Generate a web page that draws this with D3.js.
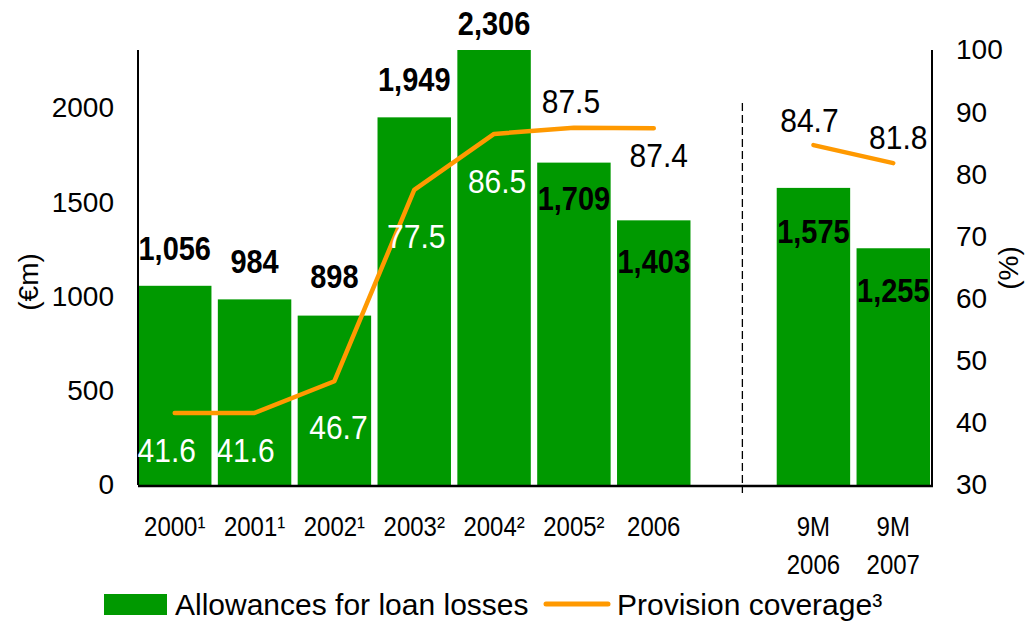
<!DOCTYPE html>
<html>
<head>
<meta charset="utf-8">
<script src="https://cdn.jsdelivr.net/npm/d3@7"></script>
<style>
  body { margin: 0; background: #fff; }
  svg text { font-family: "Liberation Sans", Arial, sans-serif; }
</style>
</head>
<body>
<div id="chart"></div>
<script>
// data
const categories = ["2000¹", "2001¹", "2002¹", "2003²", "2004²", "2005²", "2006", "gap", "9M|2006", "9M|2007"];
const barKeys = ["2000¹", "2001¹", "2002¹", "2003²", "2004²", "2005²", "2006", "9M|2006", "9M|2007"];
const allowances = [1056, 984, 898, 1949, 2306, 1709, 1403, 1575, 1255];
const coverage = [41.6, 41.6, 46.7, 77.5, 86.5, 87.5, 87.4, 84.7, 81.8];
const leftTicks = [0, 500, 1000, 1500, 2000];
const rightTicks = [30, 40, 50, 60, 70, 80, 90, 100];

// label placement (hand tuned like the original)
const barLabelDy = [-26, -26, -28, -26, -15, 47, 53, 55, 54];
const lineLabelDy = [49, 49, 58, 58, 59, -15, 39, -13, -14];
const lineLabelDx = [-8, -9, 4, 2, 3, -3, 5, -4, 5];
const lineLabelWhite = [true, true, true, true, true, false, false, false, false];

const W = 1027, H = 623;
const plot = {left: 138, right: 932, top: 50, bottom: 485};
const green = "#009900", orange = "#FF9900";
const stretch = 1.12;

const svg = d3.select("#chart").append("svg")
    .attr("width", W)
    .attr("height", H);

const x = d3.scaleBand().domain(categories).range([plot.left, 930])
    .paddingInner(0.08).paddingOuter(0);
const y = d3.scaleLinear().domain([0, 2306]).range([plot.bottom, plot.top]);
const y2 = d3.scaleLinear().domain([30, 100]).range([plot.bottom, plot.top]);
const cx = d => x(d) + x.bandwidth() / 2;

// bars
svg.selectAll(".bar")
    .data(barKeys)
  .enter().append("rect")
    .attr("class", "bar")
    .attr("x", d => x(d))
    .attr("width", x.bandwidth())
    .attr("y", (d, i) => y(allowances[i]))
    .attr("height", (d, i) => plot.bottom - y(allowances[i]))
    .attr("fill", green);

// dashed separator
const sepX = x("gap") + x.step() * 0.57;
svg.append("line")
    .attr("x1", sepX).attr("x2", sepX)
    .attr("y1", 103).attr("y2", 493)
    .attr("stroke", "#000")
    .attr("stroke-width", 1.3)
    .attr("stroke-dasharray", "8,4");

// axes lines
svg.append("line").attr("x1", plot.left).attr("x2", plot.left).attr("y1", plot.top).attr("y2", plot.bottom)
    .attr("stroke", "#000").attr("stroke-width", 2);
svg.append("line").attr("x1", plot.right).attr("x2", plot.right).attr("y1", plot.top).attr("y2", plot.bottom)
    .attr("stroke", "#000").attr("stroke-width", 2);
svg.append("line").attr("x1", plot.left).attr("x2", plot.right + 1).attr("y1", plot.bottom + 1).attr("y2", plot.bottom + 1)
    .attr("stroke", "#000").attr("stroke-width", 2.5);

// left ticks
const yAxis = d3.axisLeft(y).tickValues(leftTicks).tickFormat(d3.format("d"))
    .tickSize(0).tickPadding(24);
svg.append("g")
    .attr("transform", `translate(${plot.left},0)`)
    .call(yAxis)
    .call(g => g.select(".domain").remove())
    .selectAll("text")
    .attr("font-size", 28)
    .attr("fill", "#000")
    .attr("font-family", "Liberation Sans, Arial, sans-serif");

// right ticks
const y2Axis = d3.axisRight(y2).tickValues(rightTicks).tickSize(0).tickPadding(24);
svg.append("g")
    .attr("transform", `translate(${plot.right},0)`)
    .call(y2Axis)
    .call(g => g.select(".domain").remove())
    .selectAll("text")
    .attr("font-size", 28)
    .attr("fill", "#000")
    .attr("font-family", "Liberation Sans, Arial, sans-serif");

// axis titles
svg.append("text")
    .attr("transform", "translate(38,282) rotate(-90)")
    .attr("text-anchor", "middle")
    .attr("font-size", 28)
    .text("(€m)");
svg.append("text")
    .attr("transform", "translate(1018,268) rotate(-90)")
    .attr("text-anchor", "middle")
    .attr("font-size", 28)
    .text("(%)");

// category labels
const catLabels = svg.selectAll(".cat")
    .data(barKeys)
  .enter().append("text")
    .attr("class", "cat")
    .attr("transform", d => `translate(${cx(d)},536) scale(1,${stretch})`)
    .attr("text-anchor", "middle")
    .attr("font-size", 24);
catLabels.each(function(d) {
    const t = d3.select(this);
    d.split("|").forEach((p, j) => {
        t.append("tspan")
            .attr("x", 0)
            .attr("dy", j === 0 ? 0 : 34)
            .text(p);
    });
});

// coverage line (two segments: annual and 9M)
const pts = barKeys.map((k, i) => [cx(k), y2(coverage[i])]);
const line = d3.line();
svg.append("path")
    .attr("d", line(pts.slice(0, 7)))
    .attr("fill", "none")
    .attr("stroke", orange)
    .attr("stroke-width", 4.5)
    .attr("stroke-linecap", "round")
    .attr("stroke-linejoin", "round");
svg.append("path")
    .attr("d", line(pts.slice(7)))
    .attr("fill", "none")
    .attr("stroke", orange)
    .attr("stroke-width", 4.5)
    .attr("stroke-linecap", "round");

// bar value labels
svg.selectAll(".blabel")
    .data(barKeys)
  .enter().append("text")
    .attr("class", "blabel")
    .attr("transform", (d, i) => `translate(${cx(d)},${y(allowances[i]) + barLabelDy[i]}) scale(1,${stretch})`)
    .attr("text-anchor", "middle")
    .attr("font-size", 29)
    .attr("font-weight", "bold")
    .attr("fill", "#000")
    .text((d, i) => d3.format(",")(allowances[i]));

// line value labels
svg.selectAll(".llabel")
    .data(barKeys)
  .enter().append("text")
    .attr("class", "llabel")
    .attr("transform", (d, i) => `translate(${pts[i][0] + lineLabelDx[i]},${pts[i][1] + lineLabelDy[i]}) scale(1,${stretch})`)
    .attr("text-anchor", "middle")
    .attr("font-size", 30)
    .attr("fill", (d, i) => lineLabelWhite[i] ? "#fff" : "#000")
    .text((d, i) => coverage[i].toFixed(1));

// legend
const lg = svg.append("g");
lg.append("rect")
    .attr("x", 104).attr("y", 594)
    .attr("width", 63).attr("height", 21)
    .attr("fill", green);
lg.append("text")
    .attr("x", 175).attr("y", 615)
    .attr("font-size", 30)
    .text("Allowances for loan losses");
lg.append("line")
    .attr("x1", 546).attr("x2", 608)
    .attr("y1", 604).attr("y2", 604)
    .attr("stroke", orange)
    .attr("stroke-width", 5)
    .attr("stroke-linecap", "round");
lg.append("text")
    .attr("x", 617).attr("y", 615)
    .attr("font-size", 30)
    .text("Provision coverage³");
</script>
</body>
</html>
